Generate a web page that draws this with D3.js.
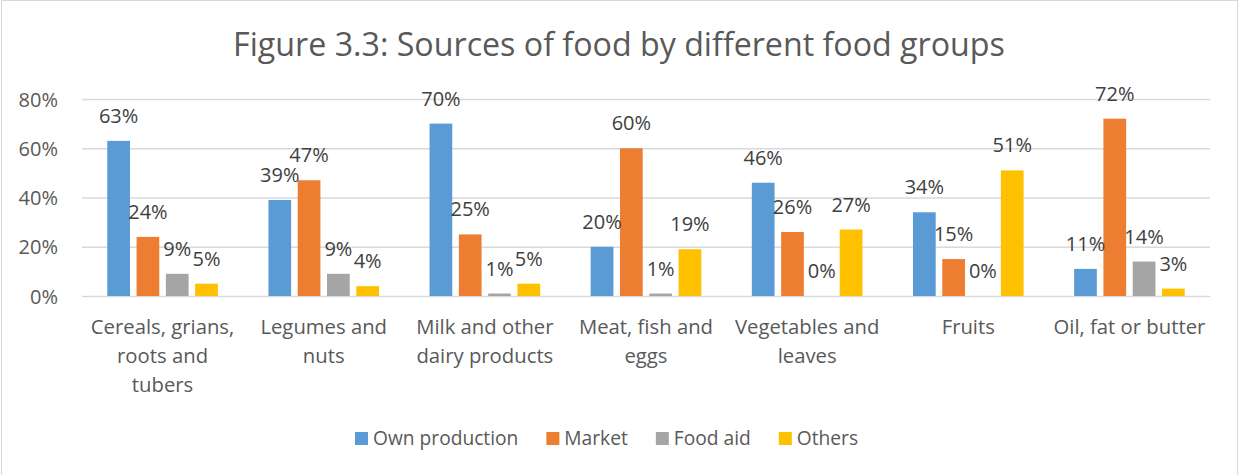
<!DOCTYPE html>
<html>
<head>
<meta charset="utf-8">
<script src="https://cdn.jsdelivr.net/npm/d3@7"></script>
<style>
  html, body { margin: 0; padding: 0; background: #fff; }
  svg { display: block; font-family: "Open Sans", Lato, sans-serif; }
</style>
</head>
<body>
<svg id="chart" width="1239" height="475"></svg>
<script>
// Food groups (line breaks as shown under the axis)
const categories = [
  "Cereals, grians,\nroots and\ntubers",
  "Legumes and\nnuts",
  "Milk and other\ndairy products",
  "Meat, fish and\neggs",
  "Vegetables and\nleaves",
  "Fruits",
  "Oil, fat or butter"
];
const seriesNames = ["Own production", "Market", "Food aid", "Others"];
const seriesColors = ["#5B9BD5", "#ED7D31", "#A5A5A5", "#FFC000"];

// Share of households (%) by source
const ownProduction = [63, 39, 70, 20, 46, 34, 11];
const market        = [24, 47, 25, 60, 26, 15, 72];
const foodAid       = [9, 9, 1, 1, 0, 0, 14];
const others        = [5, 4, 5, 19, 27, 51, 3];

const yTicks = [0, 20, 40, 60, 80];
const title = "Figure 3.3: Sources of food by different food groups";

const seriesValues = [ownProduction, market, foodAid, others];

const svg = d3.select("#chart");
const W = 1239, H = 475;
const plot = { left: 82, right: 1210, top: 99, bottom: 296 };

// chart frame
svg.append("rect")
  .attr("x", 1.5).attr("y", 0.5)
  .attr("width", W - 3).attr("height", H + 5)
  .attr("fill", "#fff").attr("stroke", "#d9d9d9").attr("stroke-width", 1);

svg.append("text")
  .attr("x", 619).attr("y", 56)
  .attr("text-anchor", "middle")
  .attr("fill", "#595959")
  .attr("font-size", 32.2)
  .text(title);

const x0 = d3.scaleBand()
  .domain(d3.range(categories.length))
  .range([plot.left, plot.right])
  .paddingInner(0).paddingOuter(0);

const groupW = 110.6;
const x1 = d3.scaleBand()
  .domain(d3.range(seriesNames.length))
  .range([-groupW / 2, groupW / 2])
  .paddingInner(0.225).paddingOuter(0);

const y = d3.scaleLinear().domain([0, 80]).range([plot.bottom, plot.top]);

// gridlines and percentage ticks
const yAxis = d3.axisLeft(y)
  .tickValues(yTicks)
  .tickSize(-(plot.right - plot.left))
  .tickPadding(24)
  .tickFormat(d => d + "%");

const ga = svg.append("g")
  .attr("transform", `translate(${plot.left},0)`)
  .call(yAxis);
ga.select(".domain").remove();
ga.selectAll(".tick line").attr("stroke", "#d9d9d9").attr("stroke-width", 1.4);
ga.selectAll(".tick text")
  .attr("fill", "#595959")
  .attr("font-size", 20)
  .attr("font-family", "'Open Sans', sans-serif")
  .attr("dy", "0.36em");

// bars
const rows = [];
categories.forEach((c, i) => {
  seriesValues.forEach((vals, s) => rows.push({ i, s, v: vals[i] }));
});

const bars = svg.append("g");
bars.selectAll("rect")
  .data(rows)
  .join("rect")
  .attr("x", d => x0(d.i) + x0.bandwidth() / 2 + x1(d.s))
  .attr("y", d => y(d.v))
  .attr("width", x1.bandwidth())
  .attr("height", d => y(0) - y(d.v))
  .attr("fill", d => seriesColors[d.s]);

// value labels
svg.append("g").selectAll("text")
  .data(rows)
  .join("text")
  .attr("x", d => x0(d.i) + x0.bandwidth() / 2 + x1(d.s) + x1.bandwidth() / 2)
  .attr("y", d => y(d.v) - 18)
  .attr("text-anchor", "middle")
  .attr("fill", "#404040")
  .attr("font-size", 20)
  .text(d => d.v + "%");

// category labels
const cl = svg.append("g");
categories.forEach((c, i) => {
  const t = cl.append("text")
    .attr("text-anchor", "middle")
    .attr("fill", "#595959")
    .attr("font-size", 20.3);
  c.split("\n").forEach((line, k) => {
    t.append("tspan")
      .attr("x", x0(i) + x0.bandwidth() / 2)
      .attr("y", 334 + k * 29)
      .text(line);
  });
});

// legend
const lg = svg.append("g");
let lx = 355;
seriesNames.forEach((n, s) => {
  lg.append("rect")
    .attr("x", lx).attr("y", 432)
    .attr("width", 13).attr("height", 13)
    .attr("fill", seriesColors[s]);
  const t = lg.append("text")
    .attr("x", lx + 18).attr("y", 445)
    .attr("fill", "#595959")
    .attr("font-size", 19.2)
    .text(n);
  lx += 18 + t.node().getComputedTextLength() + 28;
});
</script>
</body>
</html>
